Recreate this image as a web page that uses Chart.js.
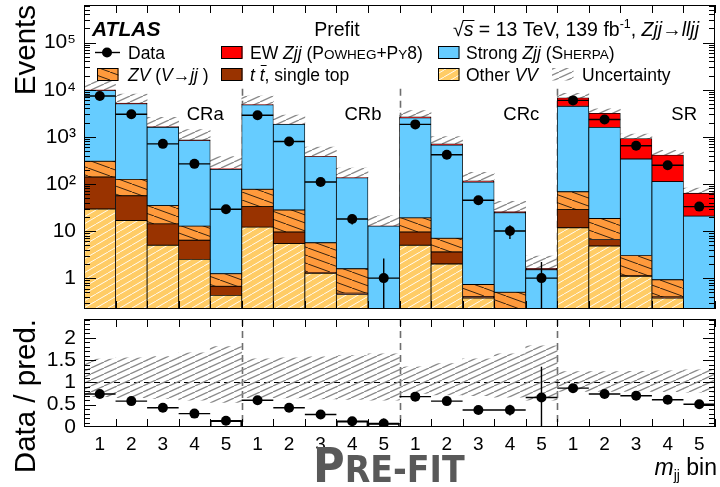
<!DOCTYPE html>
<html>
<head>
<meta charset="utf-8">
<title>Zjj prefit, mjj bins</title>
<script src="https://cdn.jsdelivr.net/npm/chart.js@4.4.1/dist/chart.umd.min.js"></script>
<style>
  html, body { margin: 0; padding: 0; background: #fff; }
  #page { position: relative; width: 720px; height: 487px; overflow: hidden; }
  canvas { position: absolute; left: 0; }
  #mainPlot { top: 0; }
  #ratioPlot { top: 314px; }
</style>
</head>
<body>
<div id="page">
  <canvas id="mainPlot" width="720" height="314"></canvas>
  <canvas id="ratioPlot" width="720" height="173"></canvas>
</div>
<script>
// regions, each split in 5 mjj bins
const regions = ['CRa', 'CRb', 'CRc', 'SR'];
const binLabels = ['1', '2', '3', '4', '5'];
const eventTickLabels = ['1', '10', '10²', '10³', '10⁴', '10⁵'];
const ratioTickLabels = { 0: '0', 0.5: '0.5', 1: '1', 1.5: '1.5', 2: '2' };

// expected events per bin (CRa, CRb, CRc, SR), stacked bottom to top
const otherVV   = [29.4, 16.8, 5.0, 2.5, 0.43,   12.1, 5.4, 1.27, 0.45, 0.1,   5.0, 2.0, 0.38, 0.15, 0.05,   11.7, 4.8, 1.09, 0.38, 0.1];
const ttbar     = [110.6, 39.2, 9.2, 3.9, 0.24,  20.9, 4.1, 0.05, 0.03, 0.01,  4.5, 1.6, 0.03, 0.02, 0.01,   16.8, 1.8, 0.03, 0.02, 0.01];
const zvJJ      = [163, 69, 20.4, 6.3, 0.57,     44, 18.5, 4.3, 1.1, 0.1,      9.5, 3.4, 0.32, 0.33, 0.05,   39.5, 11.9, 1.9, 0.52, 0.1];
const strongZjj = [9307, 4935, 1552, 818, 204,   4695, 1818, 376, 133, 12.5,   2511, 667, 109, 24, 1.4,      4377, 1572, 336, 111, 20.5];
const ewZjj     = [350, 180, 58, 30, 7,          48, 19, 4, 1.4, 0.13,         135, 36, 6, 1.4, 0.1,         2315, 1580, 582, 299, 42.9];

// relative prediction uncertainty (up / down)
const uncUp   = [0.52, 0.55, 0.58, 0.66, 0.80,  0.53, 0.55, 0.57, 0.60, 0.64,  0.35, 0.42, 0.53, 0.64, 0.82,  0.24, 0.24, 0.25, 0.26, 0.28];
const uncDown = [0.32, 0.34, 0.36, 0.40, 0.45,  0.34, 0.35, 0.37, 0.38, 0.40,  0.25, 0.28, 0.30, 0.33, 0.40,  0.20, 0.20, 0.20, 0.21, 0.22];

// observed events
const dataEvents = [7340, 3020, 710, 267, 29,  2880, 797, 110, 18, 1,  1837, 418, 45, 10, 1,  5940, 2340, 645, 250, 33];
const dataErrLo  = [86, 55, 27, 16, 5.4,       54, 28, 10.5, 4.2, 0.83, 43, 20, 6.7, 3.2, 0.83, 77, 48, 25, 16, 5.7];
const dataErrHi  = [86, 55, 27, 16, 5.4,       54, 28, 10.5, 4.2, 1.6,  43, 20, 6.7, 3.2, 1.2,  77, 48, 25, 16, 5.7];

// data / prediction
const ratio      = [0.74, 0.58, 0.43, 0.30, 0.14,  0.60, 0.43, 0.28, 0.13, 0.08,  0.68, 0.58, 0.38, 0.38, 0.66,  0.87, 0.74, 0.70, 0.61, 0.51];
const ratioErrLo = [0.01, 0.01, 0.02, 0.02, 0.03,  0.01, 0.02, 0.03, 0.03, 0.07,  0.02, 0.03, 0.05, 0.12, 0.66,  0.01, 0.02, 0.03, 0.04, 0.06];
const ratioErrHi = [0.01, 0.01, 0.02, 0.02, 0.03,  0.01, 0.02, 0.03, 0.03, 0.11,  0.02, 0.03, 0.05, 0.12, 0.69,  0.01, 0.02, 0.03, 0.04, 0.06];
const ratioHist  = [null, null, null, null, 0.14,  null, null, null, 0.13, 0.08,  null, null, null, null, null,  null, null, null, null, null];

const FONT = "'Liberation Sans', Arial, Helvetica, sans-serif";
const labels = regions.flatMap(() => binLabels);
const predTotal = labels.map((_, i) => otherVV[i] + ttbar[i] + zvJJ[i] + strongZjj[i] + ewZjj[i]);
const uncBand = predTotal.map((t, i) => [t, t * (1 + uncUp[i])]);
const ratioBand = labels.map((_, i) => [1 - uncDown[i], 1 + uncUp[i]]);

// hatch fills
function hatch(bg, fg, w, h, lw, dir) {
  const c = document.createElement('canvas');
  c.width = w; c.height = h;
  const g = c.getContext('2d');
  if (bg) { g.fillStyle = bg; g.fillRect(0, 0, w, h); }
  g.strokeStyle = fg; g.lineWidth = lw;
  for (let k = -1; k <= 1; k++) {
    g.beginPath();
    if (dir > 0) { g.moveTo(k * w, h); g.lineTo((k + 1) * w, 0); }
    else { g.moveTo(k * w, 0); g.lineTo((k + 1) * w, h); }
    g.stroke();
  }
  return g.createPattern(c, 'repeat');
}
const C_EW = '#ff0000', C_STRONG = '#66ccff', C_TT = '#993300';
const fillZV = hatch('#ff9a3c', '#3a2410', 22, 8, 1, -1);
const fillVV = hatch('#ffcc66', 'rgba(255,255,255,0.9)', 12, 7, 1, 1);
const fillUnc = hatch(null, '#8a8a8a', 13, 6, 1.3, 1);

const histStyle = { barPercentage: 1, categoryPercentage: 1, grouped: false, borderColor: '#000', borderWidth: 0.8, borderSkipped: false };

// ---- drawing helpers ----
function binHalf(x) { return (x.getPixelForValue(1) - x.getPixelForValue(0)) / 2; }

function frame(chart, majors, minors) {
  const { ctx, chartArea: a, scales: { x, y } } = chart;
  const h = binHalf(x);
  ctx.save();
  ctx.strokeStyle = '#000'; ctx.lineWidth = 1;
  ctx.strokeRect(a.left + 0.5, a.top + 0.5, a.right - a.left - 1, a.bottom - a.top - 1);
  ctx.beginPath();
  for (let i = 0; i <= labels.length; i++) {
    const px = Math.round(x.getPixelForValue(i) - h) + 0.5;
    ctx.moveTo(px, a.top); ctx.lineTo(px, a.top + 8);
    ctx.moveTo(px, a.bottom); ctx.lineTo(px, a.bottom - 8);
  }
  const tick = (v, len) => {
    const py = Math.round(y.getPixelForValue(v)) + 0.5;
    if (py < a.top || py > a.bottom) return;
    ctx.moveTo(a.left, py); ctx.lineTo(a.left + len, py);
    ctx.moveTo(a.right, py); ctx.lineTo(a.right - len, py);
  };
  majors.forEach(v => tick(v, 12));
  minors.forEach(v => tick(v, 6));
  ctx.stroke();
  ctx.restore();
}

function separators(chart, yTop) {
  const { ctx, chartArea: a, scales: { x } } = chart;
  ctx.save();
  ctx.strokeStyle = '#6e6e6e'; ctx.lineWidth = 1.6; ctx.setLineDash([7, 5]);
  ctx.beginPath();
  [4.5, 9.5, 14.5].forEach(b => {
    const px = Math.round(x.getPixelForValue(b)) + 0.5;
    ctx.moveTo(px, yTop); ctx.lineTo(px, a.bottom);
  });
  ctx.stroke();
  ctx.restore();
}

function errorBars(chart, vals, lo, hi) {
  const { ctx, chartArea: a, scales: { x, y } } = chart;
  const h = binHalf(x);
  ctx.save();
  ctx.beginPath(); ctx.rect(a.left, a.top, a.right - a.left, a.bottom - a.top); ctx.clip();
  ctx.strokeStyle = '#000'; ctx.lineWidth = 1.4;
  ctx.beginPath();
  vals.forEach((v, i) => {
    const cx = x.getPixelForValue(i);
    const py = y.getPixelForValue(v);
    ctx.moveTo(cx - h, py); ctx.lineTo(cx + h, py);
    const low = v - lo[i];
    ctx.moveTo(cx, low > 0 ? y.getPixelForValue(low) : a.bottom);
    ctx.lineTo(cx, y.getPixelForValue(v + hi[i]));
  });
  ctx.stroke();
  ctx.restore();
}

function rich(ctx, x, y, parts, draw = true) {
  for (const [txt, font, dy] of parts) {
    ctx.font = font;
    if (draw) ctx.fillText(txt, x, y + (dy || 0));
    x += ctx.measureText(txt).width;
  }
  return x;
}

function legendBox(ctx, x, base, fill, outline) {
  ctx.fillStyle = fill;
  ctx.fillRect(x, base - 12.5, 21.5, 12.5);
  if (outline) {
    ctx.strokeStyle = '#000'; ctx.lineWidth = 1;
    ctx.strokeRect(x + 0.5, base - 12, 20.5, 12);
  }
}

function headerAndLegend(chart) {
  const { ctx, scales: { x } } = chart;
  const hn = `19.5px ${FONT}`, hi = `italic 19.5px ${FONT}`;
  const n = `17.5px ${FONT}`, it = `italic 17.5px ${FONT}`, sc = `13.5px ${FONT}`;
  ctx.save();
  ctx.textAlign = 'left'; ctx.textBaseline = 'alphabetic'; ctx.fillStyle = '#000';

  // header line
  ctx.font = `bold italic 21px ${FONT}`;
  ctx.fillText('ATLAS', 92, 35.5);
  ctx.font = hn; ctx.textAlign = 'center';
  ctx.fillText('Prefit', 337, 35.5);
  ctx.textAlign = 'left';
  const energy = [['√', hn], ['s', hi], [' = 13 TeV, 139 fb', hn], ['-1', `12.5px ${FONT}`, -8], [', ', hn], ['Zjj', hi], ['→', hn], ['lljj', hi]];
  const x0 = 699 - rich(ctx, 0, 0, energy, false);
  rich(ctx, x0, 35.5, energy);
  ctx.font = hn;
  const sx = x0 + ctx.measureText('√').width;
  ctx.font = hi;
  ctx.strokeStyle = '#000'; ctx.lineWidth = 1;
  ctx.beginPath(); ctx.moveTo(sx - 1, 20.5); ctx.lineTo(sx + ctx.measureText('s').width + 1, 20.5); ctx.stroke();

  // legend row 1
  const r1 = 58.5, r2 = 80.5;
  ctx.beginPath(); ctx.lineWidth = 1.4;
  ctx.moveTo(95, r1 - 6); ctx.lineTo(120, r1 - 6); ctx.stroke();
  ctx.beginPath(); ctx.arc(107, r1 - 6, 5, 0, Math.PI * 2); ctx.fill();
  ctx.fillStyle = '#000'; ctx.font = n; ctx.fillText('Data', 128, r1);

  legendBox(ctx, 221, r1, C_EW, true);
  ctx.fillStyle = '#000';
  rich(ctx, 250, r1, [['EW ', n], ['Zjj', it], [' (P', n], ['OWHEG', sc], ['+P', n], ['Y', sc], ['8)', n]]);

  legendBox(ctx, 438, r1, C_STRONG, true);
  ctx.fillStyle = '#000';
  rich(ctx, 466, r1, [['Strong ', n], ['Zjj', it], [' (S', n], ['HERPA', sc], [')', n]]);

  // legend row 2
  legendBox(ctx, 97, r2, fillZV, true);
  ctx.fillStyle = '#000';
  rich(ctx, 128, r2, [['ZV', it], [' (', n], ['V', it], ['→', n], ['jj', it], [' )', n]]);

  legendBox(ctx, 221, r2, C_TT, true);
  ctx.fillStyle = '#000';
  const tx = rich(ctx, 250, r2, [['t ', it]]);
  ctx.font = it;
  const tw = ctx.measureText('t').width;
  rich(ctx, tx, r2, [['t', it], [', single top', n]]);
  ctx.beginPath(); ctx.lineWidth = 1; ctx.moveTo(tx + 1, r2 - 15); ctx.lineTo(tx + tw + 2, r2 - 15); ctx.stroke();

  legendBox(ctx, 438, r2, fillVV, true);
  ctx.fillStyle = '#000';
  rich(ctx, 466, r2, [['Other ', n], ['VV', it]]);

  legendBox(ctx, 552, r2, fillUnc, false);
  ctx.fillStyle = '#000'; ctx.font = n;
  ctx.fillText('Uncertainty', 582, r2);

  // region names
  ctx.font = `18.5px ${FONT}`; ctx.textAlign = 'right';
  regions.forEach((r, k) => {
    ctx.fillText(r, x.getPixelForValue(k * 5 + 4.5) - 18, 120);
  });
  ctx.restore();
}

// axis tick positions
const logMajors = [1, 10, 100, 1e3, 1e4, 1e5];
const logMinors = [];
for (let e = -1; e <= 5; e++) for (let k = 2; k <= 9; k++) logMinors.push(k * Math.pow(10, e));
const linMajors = [0, 0.5, 1, 1.5, 2];
const linMinors = [];
for (let v = 0.1; v < 2.42; v += 0.1) linMinors.push(+v.toFixed(1));

// fixed axis widths so both panels line up, no label overhang padding
const fixY = s => { s.width = 84; s.paddingTop = 0; s.paddingBottom = 0; };
const fixX = h => s => { s.height = h; s.paddingLeft = 0; s.paddingRight = 0; };
const yTitleFont = { family: FONT, size: 29.5 };

// ---- main panel ----
new Chart(document.getElementById('mainPlot'), {
  type: 'bar',
  data: {
    labels: labels,
    datasets: [
      { type: 'line', label: 'Data', data: dataEvents, stack: 'data', showLine: false,
        pointRadius: 5, pointBackgroundColor: '#000', pointBorderColor: '#000', pointBorderWidth: 0 },
      { label: 'Other VV', data: otherVV, stack: 'mc', backgroundColor: fillVV, ...histStyle },
      { label: 'ttbar, single top', data: ttbar, stack: 'mc', backgroundColor: C_TT, ...histStyle },
      { label: 'ZV(V->jj)', data: zvJJ, stack: 'mc', backgroundColor: fillZV, ...histStyle },
      { label: 'Strong Zjj (Sherpa)', data: strongZjj, stack: 'mc', backgroundColor: C_STRONG, ...histStyle },
      { label: 'EW Zjj (Powheg+Py8)', data: ewZjj, stack: 'mc', backgroundColor: C_EW, ...histStyle },
      { label: 'Uncertainty', data: uncBand, stack: 'unc', backgroundColor: fillUnc,
        barPercentage: 1, categoryPercentage: 1, grouped: false, borderWidth: 0 }
    ]
  },
  options: {
    responsive: false,
    animation: false,
    events: [],
    layout: { padding: { left: 0, right: 2, top: 5, bottom: 1 } },
    plugins: { legend: { display: false }, tooltip: { enabled: false } },
    scales: {
      x: { type: 'category', display: false, offset: true, grid: { display: false } },
      y: {
        type: 'logarithmic', stacked: true, min: 0.221, max: 6.3e5,
        afterFit: fixY,
        grid: { display: false, drawTicks: false }, border: { display: false },
        ticks: {
          autoSkip: false, padding: 8, color: '#000', font: { family: FONT, size: 21 },
          callback: v => {
            const e = Math.log10(v);
            if (Math.abs(e - Math.round(e)) > 1e-6) return '';
            return eventTickLabels[Math.round(e)] ?? '';
          }
        },
        title: { display: true, text: 'Events', align: 'end', color: '#000',
                 font: yTitleFont, padding: { top: 9, bottom: 0 } }
      }
    }
  },
  plugins: [{
    id: 'mainDecor',
    beforeDatasetsDraw(chart) { separators(chart, chart.scales.y.getPixelForValue(1.05e4)); },
    afterDatasetsDraw(chart) {
      errorBars(chart, dataEvents, dataErrLo, dataErrHi);
      frame(chart, logMajors, logMinors);
      headerAndLegend(chart);
    }
  }]
});

// ---- ratio panel ----
new Chart(document.getElementById('ratioPlot'), {
  type: 'bar',
  data: {
    labels: labels,
    datasets: [
      { type: 'line', label: 'Data / pred.', data: ratio, showLine: false,
        pointRadius: 5, pointBackgroundColor: '#000', pointBorderColor: '#000', pointBorderWidth: 0 },
      { label: 'Data / pred. hist', data: ratioHist, backgroundColor: 'rgba(0,0,0,0)',
        barPercentage: 1, categoryPercentage: 1, grouped: false, borderColor: '#000', borderWidth: 1, borderSkipped: 'bottom' },
      { label: 'Uncertainty', data: ratioBand, backgroundColor: fillUnc,
        barPercentage: 1, categoryPercentage: 1, grouped: false, borderWidth: 0 }
    ]
  },
  options: {
    responsive: false,
    animation: false,
    events: [],
    layout: { padding: { left: 0, right: 2, top: 3, bottom: 0 } },
    plugins: { legend: { display: false }, tooltip: { enabled: false } },
    scales: {
      x: {
        type: 'category', offset: true,
        afterFit: fixX(60),
        grid: { display: false, drawTicks: false }, border: { display: false },
        ticks: { autoSkip: false, maxRotation: 0, padding: 6, color: '#000', font: { family: FONT, size: 19 } }
      },
      y: {
        type: 'linear', min: 0, max: 2.42,
        afterFit: fixY,
        grid: { display: false, drawTicks: false }, border: { display: false },
        ticks: { stepSize: 0.5, includeBounds: false, autoSkip: false, padding: 8, color: '#000',
                 font: { family: FONT, size: 21 },
                 callback: v => ratioTickLabels[v] ?? '' },
        title: { display: true, text: 'Data / pred.', align: 'end', color: '#000',
                 font: yTitleFont, padding: { top: 9, bottom: 0 } }
      }
    }
  },
  plugins: [{
    id: 'ratioDecor',
    beforeDatasetsDraw(chart) {
      const { ctx, chartArea: a, scales: { y } } = chart;
      separators(chart, a.top);
      ctx.save();
      ctx.strokeStyle = '#000'; ctx.lineWidth = 1; ctx.setLineDash([6, 4]);
      const py = Math.round(y.getPixelForValue(1)) + 0.5;
      ctx.beginPath(); ctx.moveTo(a.left, py); ctx.lineTo(a.right, py); ctx.stroke();
      ctx.restore();
    },
    afterDatasetsDraw(chart) {
      const { ctx } = chart;
      errorBars(chart, ratio, ratioErrLo, ratioErrHi);
      frame(chart, linMajors, linMinors);
      ctx.save();
      ctx.fillStyle = '#000'; ctx.textBaseline = 'alphabetic';
      // axis title: m_jj bin
      const title = [['m', `italic 23px ${FONT}`], ['jj', `14px ${FONT}`, 5], [' bin', `23px ${FONT}`]];
      const mx = 717 - rich(ctx, 0, 0, title, false);
      rich(ctx, mx, 161, title);
      // stage stamp
      ctx.fillStyle = '#595959';
      const stamp = "'DejaVu Sans Condensed', 'Liberation Sans Narrow', 'DejaVu Sans', sans-serif";
      rich(ctx, 313, 168, [['P', `bold 48px ${stamp}`], ['RE-FIT', `bold 37px ${stamp}`]]);
      ctx.restore();
    }
  }]
});
</script>
</body>
</html>
